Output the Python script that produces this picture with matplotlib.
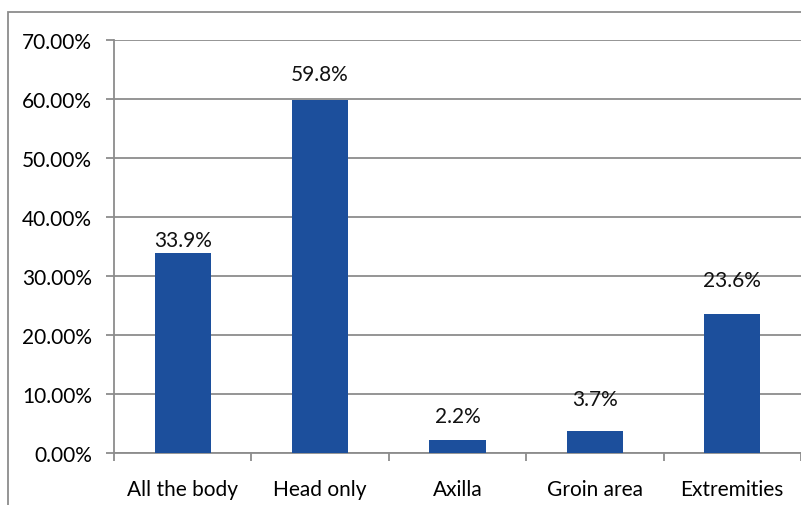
import matplotlib.pyplot as plt
from matplotlib.patches import Rectangle
from matplotlib.ticker import FuncFormatter

categories = ['All the body', 'Head only', 'Axilla', 'Groin area', 'Extremities']
values = [33.9, 59.8, 2.2, 3.7, 23.6]
value_labels = ['33.9%', '59.8%', '2.2%', '3.7%', '23.6%']

# hand-placed label offsets above each bar (points, to label centre), as in the original
label_offsets = [9, 19, 17, 23, 24]

plt.rcParams['font.family'] = ['Lato', 'DejaVu Sans']

fig = plt.figure(figsize=(8.01, 5.06), dpi=100)
ax = fig.add_axes([114 / 801, 1 - 454 / 506, 1 - 114 / 801, (454 - 41) / 506])

# outer chart frame
fig.patches.append(Rectangle((8 / 801, -0.1), 1.2, 1.1 - 13 / 506,
                             transform=fig.transFigure, fill=False,
                             edgecolor='#8c8c8c', linewidth=1.3))

x = range(len(categories))
bars = ax.bar(x, values, width=0.41, color='#1c4f9c', zorder=3)

for bar, text, off in zip(bars, value_labels, label_offsets):
    ax.annotate(text, (bar.get_x() + bar.get_width() / 2, bar.get_height()),
                xytext=(0, off), textcoords='offset points',
                ha='center', va='center', fontsize=15, color='#111111')

ax.set_xlim(-0.5, len(categories) - 0.5)
ax.set_ylim(0, 70)
ax.set_yticks(range(0, 71, 10))
ax.yaxis.set_major_formatter(FuncFormatter(lambda v, p: f'{v:.2f}%'))
ax.grid(axis='y', color='#8c8c8c', linewidth=1.3, zorder=0)

ax.set_xticks(list(x))
ax.set_xticklabels(categories)
ax.set_xticks([i + 0.5 for i in range(-1, len(categories))], minor=True)
ax.tick_params(axis='x', which='major', length=0, pad=19, labelsize=15)
ax.tick_params(axis='x', which='minor', length=6, width=1.3, color='#8c8c8c')
ax.tick_params(axis='y', length=6, width=1.3, color='#8c8c8c', pad=10, labelsize=15)

for side in ['top', 'right']:
    ax.spines[side].set_visible(False)
for side in ['left', 'bottom']:
    ax.spines[side].set_color('#8c8c8c')
    ax.spines[side].set_linewidth(1.3)

plt.savefig('out.png', dpi=100)
